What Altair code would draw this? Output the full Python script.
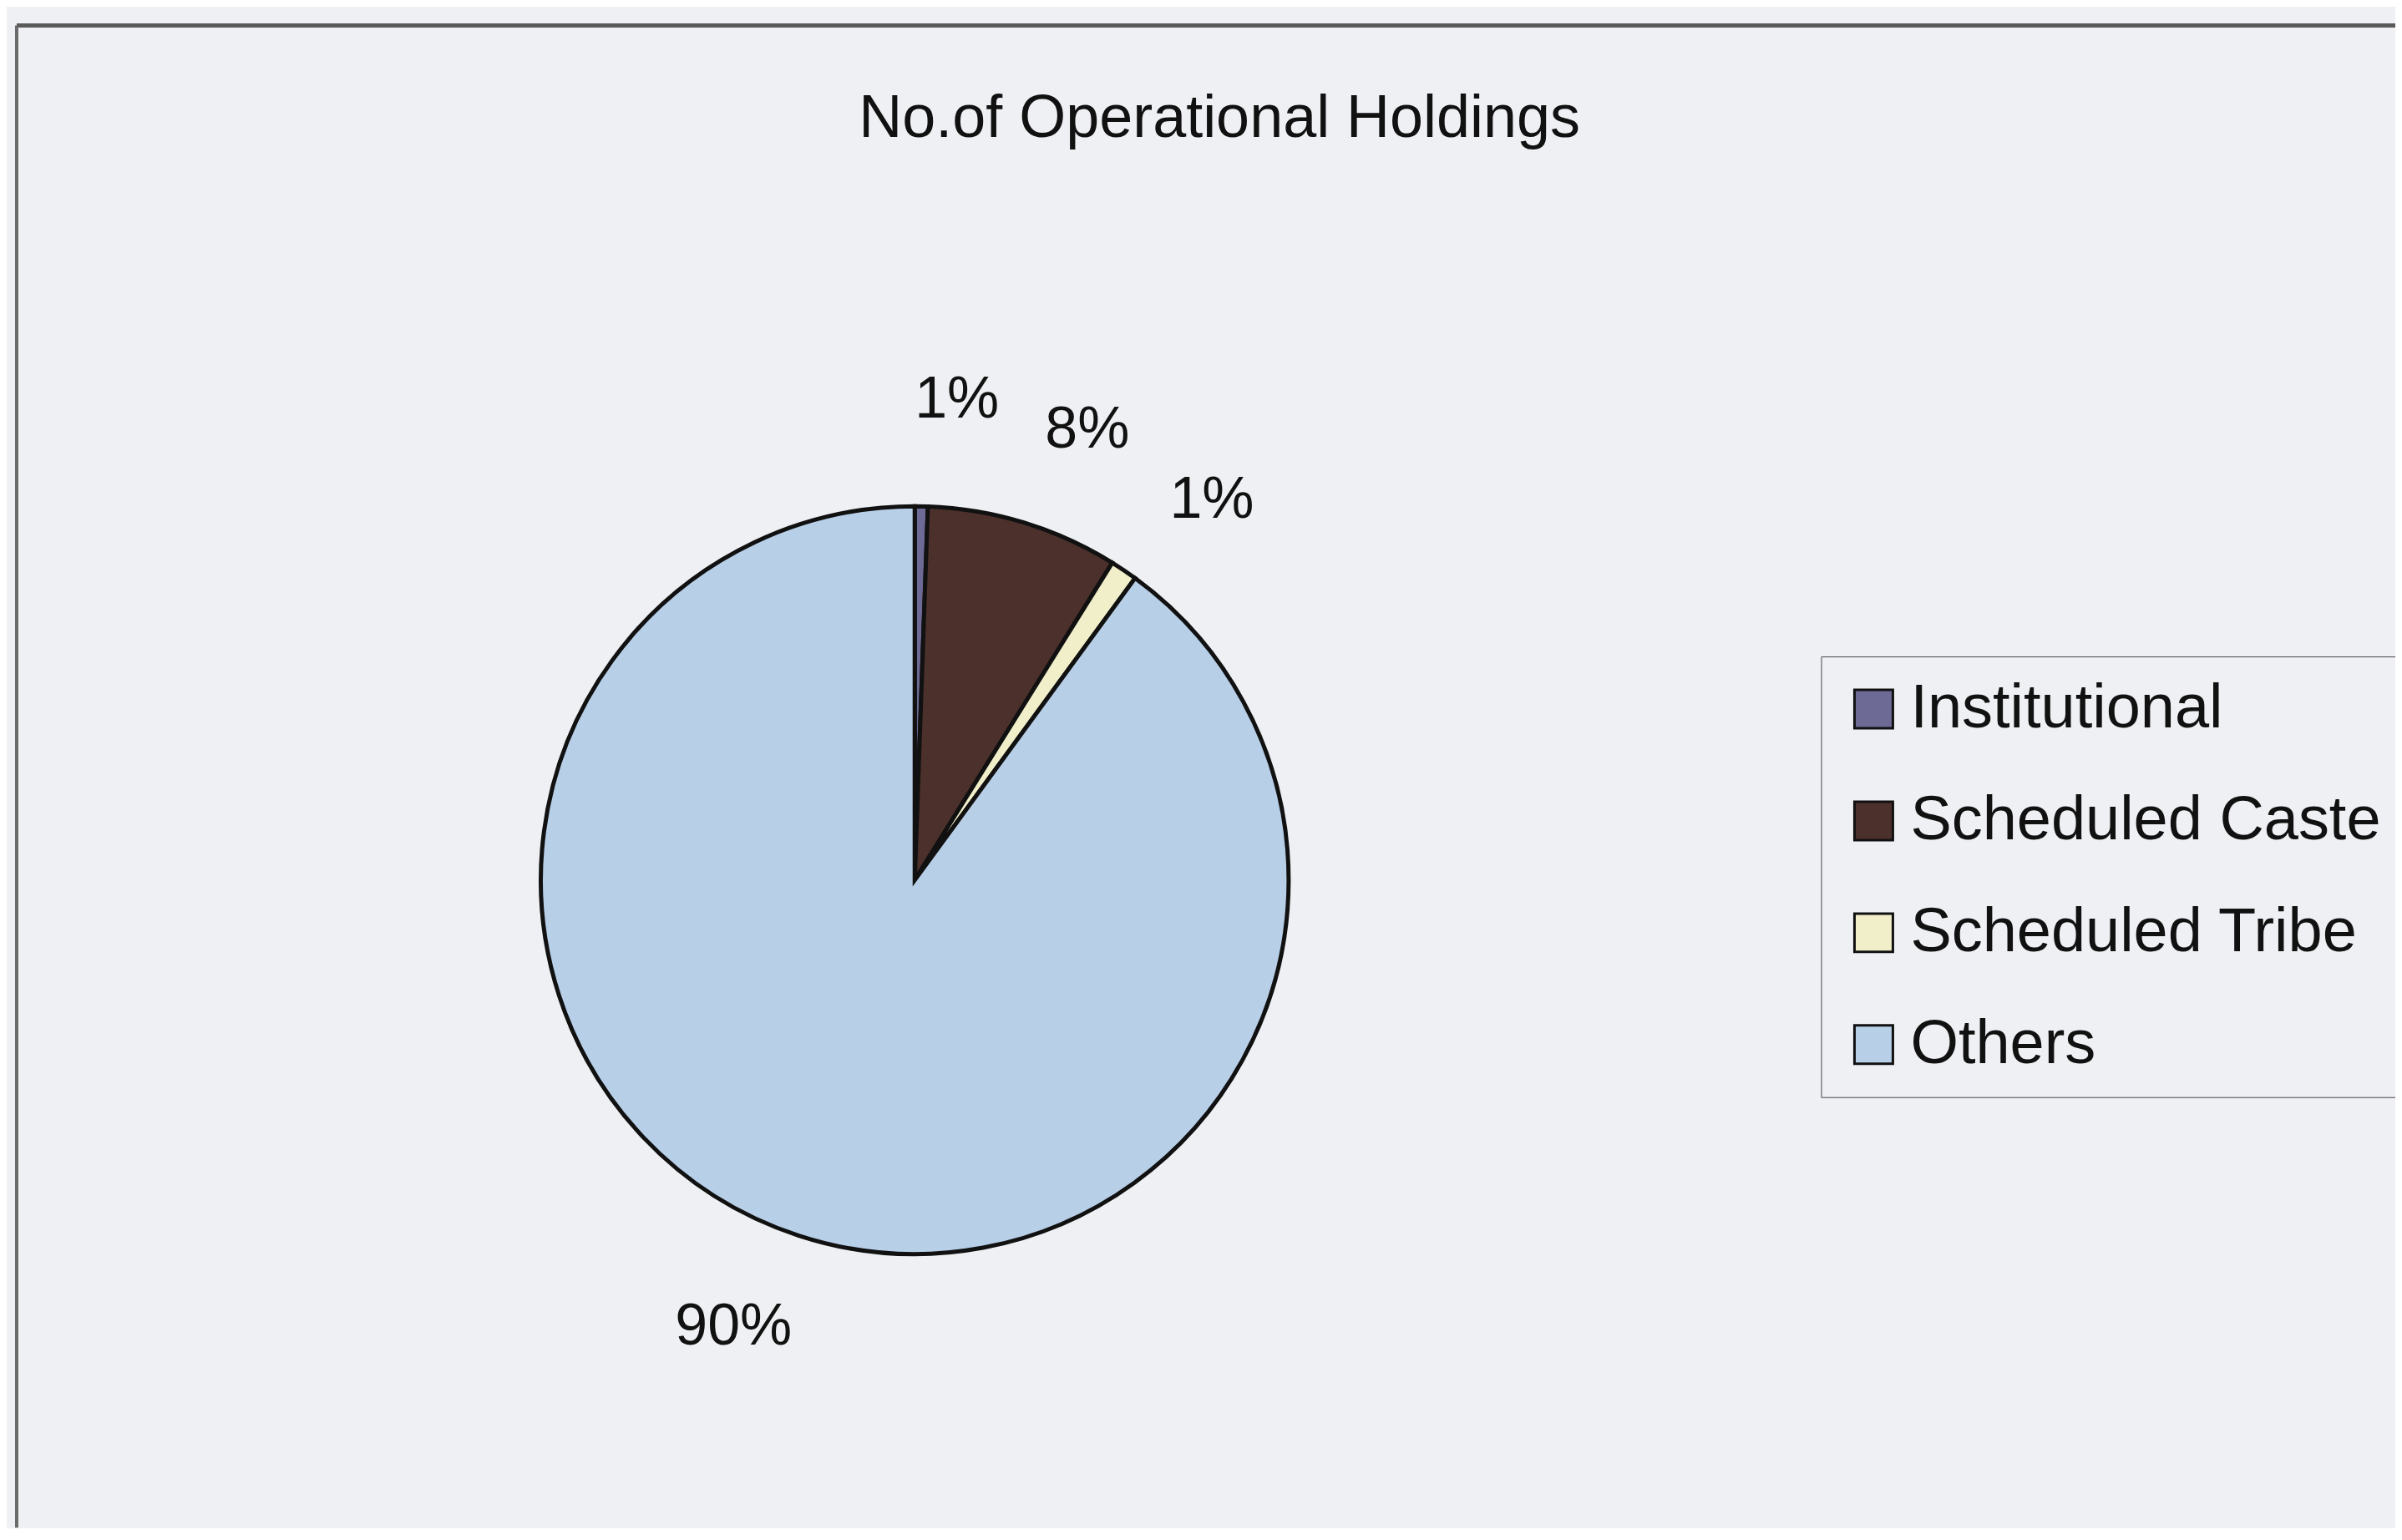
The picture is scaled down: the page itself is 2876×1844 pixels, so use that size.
import altair as alt
import pandas as pd

categories = ["Institutional", "Scheduled Caste", "Scheduled Tribe", "Others"]
shares = [0.56, 8.30, 1.17, 89.97]
pct_labels = ["1%", "8%", "1%", "90%"]
colors = ["#6e6a96", "#4b302b", "#f1efc9", "#b8cfe8"]
title_text = "No.of Operational Holdings"

FONT = "Liberation Sans, Arial, sans-serif"
BG = "#eef0f3"
W, H = 2850, 1800
CX, CY, R = 1076, 1024, 448

df = pd.DataFrame({"category": categories, "share": shares,
                   "label": pct_labels, "idx": list(range(len(categories)))})

color_scale = alt.Scale(domain=categories, range=colors)

base = alt.Chart(df).encode(
    theta=alt.Theta("share:Q", stack=True),
    order=alt.Order("idx:Q"),
)

pie = base.mark_arc(outerRadius=R, stroke="#111111", strokeWidth=5).encode(
    x=alt.value(CX), y=alt.value(CY),
    color=alt.Color(
        "category:N", scale=color_scale, sort=categories,
        legend=alt.Legend(
            title=None, orient="none", legendX=2162, legendY=756,
            symbolType="square", symbolSize=2116, symbolStrokeColor="#111111",
            symbolStrokeWidth=3, labelFontSize=74, labelFont=FONT,
            labelColor="#111111", labelOffset=7, rowPadding=60,
            padding=26, strokeColor="#444444", fillColor=BG,
            labelLimit=1000,
        ),
    ),
)

texts = base.mark_text(radius=578, thetaOffset=0.07, fontSize=70, font=FONT,
                       color="#111111", align="center", baseline="middle").encode(
    x=alt.value(CX), y=alt.value(CY), text="label:N")

frame_df = pd.DataFrame({"a": [0]})
top_rule = alt.Chart(frame_df).mark_rule(color="#5a5a5a", strokeWidth=5).encode(
    x=alt.value(0), x2=alt.value(W), y=alt.value(0))
left_rule = alt.Chart(frame_df).mark_rule(color="#6a6a6a", strokeWidth=4).encode(
    x=alt.value(0), y=alt.value(0), y2=alt.value(H))

chart = alt.layer(top_rule, left_rule, pie, texts).properties(
    width=W, height=H,
    autosize=alt.AutoSizeParams(type="none"),
    padding={"left": 12, "top": 22, "right": 0, "bottom": 0},
    background=BG,
    title=alt.TitleParams(title_text, font=FONT, fontSize=72, fontWeight="normal",
                          color="#111111", anchor="start", frame="group",
                          orient="top", baseline="alphabetic", offset=0,
                          dx=1009, dy=208),
).configure_view(stroke=None)

chart.save("out.html", embed_options={"renderer": "svg", "actions": False})
